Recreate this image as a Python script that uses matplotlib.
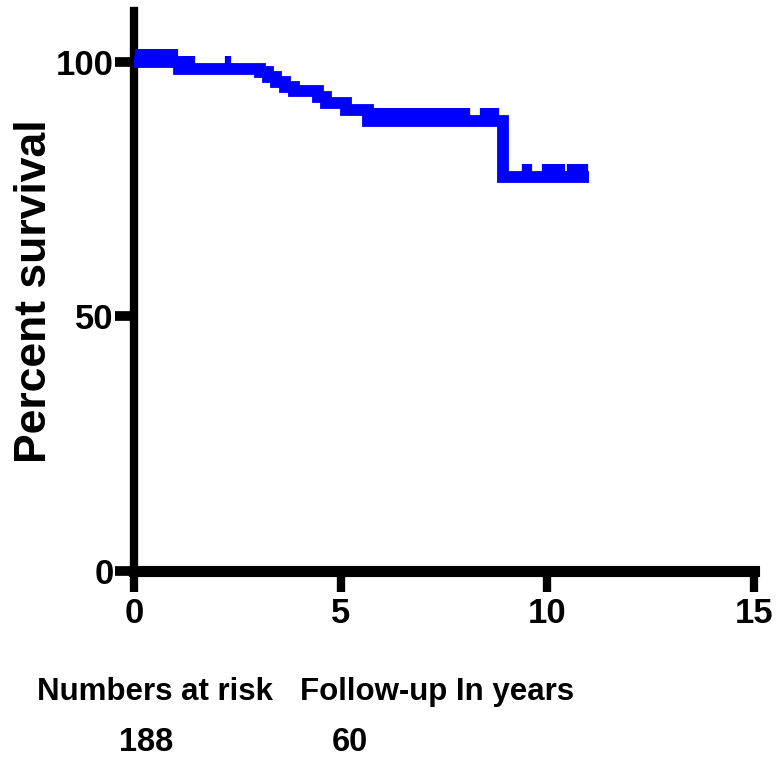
import matplotlib
matplotlib.use("Agg")
import matplotlib.pyplot as plt
from matplotlib.path import Path
import numpy as np

# ---- data ----
step_times = [0, 1.1, 3.05, 3.25, 3.44, 3.65, 3.87, 4.46, 4.65, 5.13, 5.67, 8.93, 11.0]
step_surv = [100, 98.6, 98.0, 97.1, 96.1, 95.1, 94.3, 93.1, 92.0, 90.6, 88.4, 77.3, 77.3]
censor_times = [0.1, 0.2, 0.3, 0.4, 0.5, 0.6, 0.7, 0.8, 0.9, 1.0,
                1.2, 1.3, 1.4, 2.28,
                5.8, 5.9, 6.0, 6.1, 6.2, 6.3, 6.4, 6.5, 6.6, 6.7, 6.8, 6.9, 7.0,
                7.1, 7.2, 7.3, 7.4, 7.5, 7.6, 7.7, 7.8, 7.9, 8.0, 8.05,
                8.45, 8.55, 8.65, 8.75,
                9.45, 9.55, 9.95, 10.05, 10.15, 10.25, 10.35, 10.55, 10.65, 10.8, 10.9]
x_ticks = [0, 5, 10, 15]
y_ticks = [0, 50, 100]
risk_numbers = ["188", "60"]

BLUE = "#0000FF"
fam = ["Liberation Sans", "DejaVu Sans"]

W, H = 777, 760
fig = plt.figure(figsize=(W / 100, H / 100), dpi=100)
ax = fig.add_axes([134 / W, 1 - 571 / H, (754 - 134) / W, (571 - 11) / H])

ax.step(step_times, step_surv, where="post", color=BLUE, lw=8.5, solid_joinstyle="miter",
        solid_capstyle="butt", zorder=3)

# censor marks: upward ticks on the curve
idx = np.searchsorted(step_times, censor_times, side="right") - 1
cy = np.array(step_surv)[idx]
tick_marker = Path([(0, 0), (0, 1)])
ax.plot(censor_times, cy, ls="none", marker=tick_marker, ms=19, mew=4.5,
        color=BLUE, zorder=3)

ax.set_xlim(0, 15)
ax.set_ylim(0, 110)
ax.set_xticks(x_ticks)
ax.set_yticks(y_ticks)
ax.set_xticklabels([str(v) for v in x_ticks], fontfamily=fam, fontweight="bold", fontsize=25)
ax.set_yticklabels([str(v) for v in y_ticks], fontfamily=fam, fontweight="bold", fontsize=25)

for s in ["top", "right"]:
    ax.spines[s].set_visible(False)
ax.spines["left"].set_linewidth(6)
ax.spines["bottom"].set_linewidth(8)
ax.spines["left"].set_capstyle("projecting")
ax.spines["bottom"].set_capstyle("projecting")
ax.tick_params(axis="x", direction="out", length=15, width=6, pad=4, color="black")
ax.tick_params(axis="y", direction="out", length=14, width=7, pad=0.5, color="black")

fig.text(35 / W, 1 - 291 / H, "Percent survival", rotation=90, ha="center", va="center",
         fontfamily=fam, fontweight="bold", fontsize=32)

fig.text(37 / W, 1 - 700 / H, "Numbers at risk", ha="left", va="baseline",
         fontfamily=fam, fontweight="bold", fontsize=22.5)
fig.text(300 / W, 1 - 700 / H, "Follow-up In years", ha="left", va="baseline",
         fontfamily=fam, fontweight="bold", fontsize=22.5)
fig.text(146 / W, 1 - 751 / H, risk_numbers[0], ha="center", va="baseline",
         fontfamily=fam, fontweight="bold", fontsize=23.5)
fig.text(350 / W, 1 - 751 / H, risk_numbers[1], ha="center", va="baseline",
         fontfamily=fam, fontweight="bold", fontsize=23.5)

fig.savefig("out.png", dpi=100)
